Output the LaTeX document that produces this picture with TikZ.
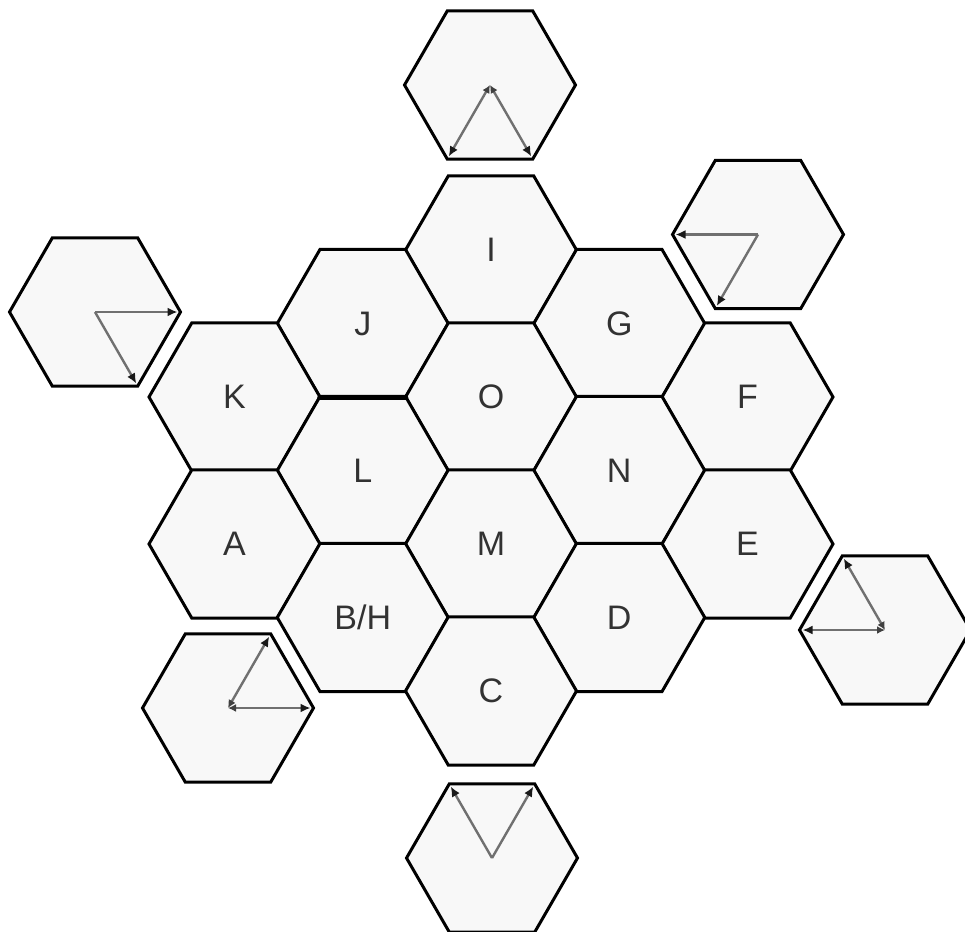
\documentclass[tikz,border=0pt]{standalone}
\usepackage{fontspec}
\setmainfont{Liberation Sans}
\usetikzlibrary{arrows.meta,shapes.geometric}
\definecolor{cellfill}{RGB}{248,248,248}
\definecolor{vecgray}{RGB}{112,112,112}
\definecolor{labelgray}{RGB}{50,50,50}
\begin{document}
\begin{tikzpicture}[x=1pt,y=-1pt,
 hex/.style={regular polygon,regular polygon sides=6,minimum size=171pt,inner sep=0pt,outer sep=0pt,draw=black,line width=3pt,fill=cellfill,text=labelgray,font=\fontsize{34}{40}\selectfont},
 vec/.style={-{Latex[length=10pt,width=9pt,color=black!90]},line width=2.4pt,draw=vecgray,shorten >=3pt},
 vecc/.style={vec,{Latex[length=8pt,width=8pt,color=black!75]}-{Latex[length=10pt,width=9pt,color=black!90]}},
 seam/.style={line width=5.5pt,line cap=round}]
\useasboundingbox (0,0) rectangle (965,931);
\node[hex] (vt) at (490,85) {};
\node[hex] (vur) at (758,234.5) {};
\node[hex] (vl) at (95,312) {};
\node[hex] (vbl) at (228,708) {};
\node[hex] (vr) at (885,630) {};
\node[hex] (vb) at (492,858) {};
\node[hex] (I) at (491,250) {I};
\node[hex] (J) at (362.75,323.5) {J};
\node[hex] (G) at (619.25,323.5) {G};
\node[hex] (K) at (234.5,397) {K};
\node[hex] (O) at (491,397) {O};
\node[hex] (F) at (747.5,397) {F};
\node[hex] (L) at (362.75,470.5) {L};
\node[hex] (N) at (619.25,470.5) {N};
\node[hex] (A) at (234.5,544) {A};
\node[hex] (M) at (491,544) {M};
\node[hex] (E) at (747.5,544) {E};
\node[hex] (BH) at (362.75,617.5) {B/H};
\node[hex] (D) at (619.25,617.5) {D};
\node[hex] (C) at (491,691) {C};
\draw[seam] (J.240) -- (J.300);
\draw[vecc] (vt.center) -- (vt.240); \draw[vecc] (vt.center) -- (vt.300);
\draw[vec] (vur.center) -- (vur.180); \draw[vec] (vur.center) -- (vur.240);
\draw[vec] (vl.center) -- (vl.0); \draw[vec] (vl.center) -- (vl.300);
\draw[vecc] (vbl.center) -- (vbl.60); \draw[vecc] (vbl.center) -- (vbl.0);
\draw[vecc] (vr.center) -- (vr.120); \draw[vecc] (vr.center) -- (vr.180);
\draw[vec] (vb.center) -- (vb.120); \draw[vec] (vb.center) -- (vb.60);
\end{tikzpicture}
\end{document}
